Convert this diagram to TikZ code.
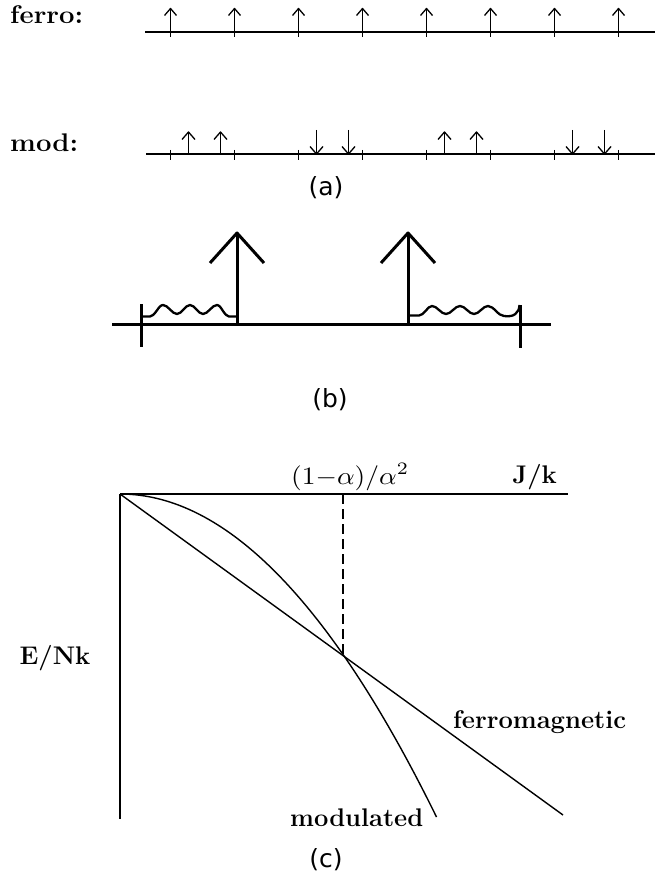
\RequirePackage{fix-cm}
\documentclass[tikz,border=0pt]{standalone}
\usepackage{graphicx}
\usepackage{fontspec}
\newfontfamily\lblfont{DejaVu Sans}
\newcommand\critlabel{\scalebox{2.75}[2.5]{$(1{-}\alpha)/\alpha^{2}$}}
\newcommand\widetxt[1]{\scalebox{1.08}[1]{#1}}
\tikzset{
  thinln/.style={line width=1.3pt, line join=round},
  axisln/.style={line width=1.4pt},
  thickln/.style={line width=3pt, line join=round},
  waveln/.style={line width=2.3pt, line join=round},
  txt/.style={font=\fontsize{25.5}{30}\selectfont\bfseries, inner sep=0pt, anchor=base west},
  caplbl/.style={font=\lblfont\fontsize{25}{29}\selectfont, inner sep=0pt},
}
\begin{document}
\begin{tikzpicture}[x=1pt,y=-1pt]
\useasboundingbox (0,0) rectangle (655,877);
\fill[white] (0,0) rectangle (655,877);

% ---------- (a) ----------
\node[txt] (ferrolbl) at (10,24) {\widetxt{ferro:}};
\node[txt] (modlbl) at (10,152) {\widetxt{mod:}};
\coordinate (fa) at (145,32);
\coordinate (fb) at (655,32);
\coordinate (ma) at (146,154);
\coordinate (mb) at (655,154);
\draw[thinln] (fa) -- (fb);
\draw[thinln] (ma) -- (mb);
\foreach \i in {0,...,7} {
  \pgfmathsetmacro\xx{170.5+64*\i}
  \draw[thinln] (\xx,37) -- (\xx,8.5);
  \draw[thinln] (\xx-6,15.5) -- (\xx,8.5) -- (\xx+6,15.5);
  \draw[thinln] (\xx,150) -- (\xx,160);
}
\foreach \k in {0,2} {
  \foreach \o in {18,50} {
    \pgfmathsetmacro\xx{170.5+128*\k+\o}
    \draw[thinln] (\xx,154) -- (\xx,132);
    \draw[thinln] (\xx-6.5,139.5) -- (\xx,132) -- (\xx+6.5,139.5);
  }
}
\foreach \k in {1,3} {
  \foreach \o in {18,50} {
    \pgfmathsetmacro\xx{170.5+128*\k+\o}
    \draw[thinln] (\xx,130) -- (\xx,154);
    \draw[thinln] (\xx-6.5,146.5) -- (\xx,154) -- (\xx+6.5,146.5);
  }
}
\node[caplbl] (capa) at (326,188) {(a)};

% ---------- (b) ----------
\coordinate (ba) at (112,324);
\coordinate (bb) at (551,324);
\draw[thickln] (ba) -- (bb);
\draw[thickln] (141.5,304) -- (141.5,347);
\draw[thickln] (520,305) -- (520,348);
\draw[thickln] (237,324) -- (237,233);
\draw[thickln] (210,263) -- (237,233) -- (264,263);
\draw[thickln] (408,324) -- (408,233);
\draw[thickln] (381,263) -- (408,233) -- (435,263);
\draw[waveln] (141.5,316.5) -- (150,316.5)
  cos (156.5,311) sin (163,305) cos (170,309.5) sin (177,314)
  cos (183.5,309.5) sin (190,305) cos (196.5,309.5) sin (203,314)
  cos (210,309.5) sin (217,305) cos (223,311) sin (229,316.5)
  -- (237,316.5);
\draw[waveln] (408,315.5) -- (419,315.5)
  cos (425.5,311) sin (432,306) cos (439,310) sin (446,314)
  cos (453,310) sin (460,306) cos (467,310) sin (474,314)
  cos (481,310) sin (488,306) cos (496,311) sin (504,316)
  .. controls (514,317.5) and (519,313) .. (519.5,305);
\node[caplbl] (capb) at (330,400) {(b)};

% ---------- (c) ----------
\coordinate (O) at (120,494);
\coordinate (xend) at (568,494);
\coordinate (yend) at (120,819);
\coordinate (xc) at (343,494);
\coordinate (cross) at (343,654);
\coordinate (fend) at (563,815);
\coordinate (mend) at (436.5,817);
\draw[axisln] (O) -- (xend);
\draw[axisln] (O) -- (yend);
\draw[axisln, dash pattern=on 10pt off 5pt] (xc) -- (cross);
\draw[axisln] (O) -- (fend);
\draw[axisln] (O) .. controls (225.5,494) and (331,602) .. (mend);
\node[inner sep=0pt, anchor=base west] (crit) at (291,484) {\critlabel};
\node[txt, anchor=base east] (jk) at (557,483) {J/k};
\node[txt, anchor=center] (enk) at (55,658) {E/Nk};
\node[txt] (ferrotxt) at (453,728) {ferromagnetic};
\node[txt] (modtxt) at (290,826) {modulated};
\node[caplbl] (capc) at (326,860) {(c)};
\end{tikzpicture}
\end{document}
